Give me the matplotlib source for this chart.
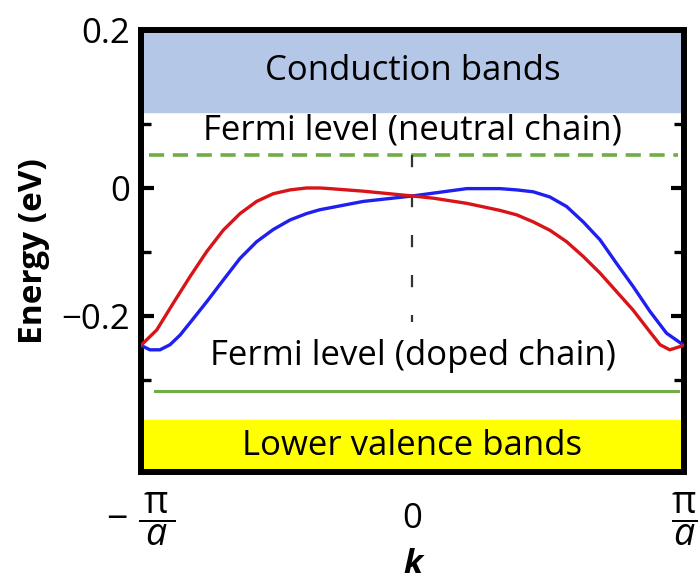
import matplotlib
matplotlib.use("Agg")
import matplotlib.pyplot as plt
from matplotlib.ticker import FixedLocator

plt.rcParams['font.family'] = ['Open Sans', 'DejaVu Sans']
plt.rcParams['mathtext.fontset'] = 'custom'
plt.rcParams['mathtext.rm'] = 'Open Sans'
plt.rcParams['mathtext.it'] = 'Open Sans:italic'
plt.rcParams['mathtext.bf'] = 'Open Sans:bold'

# ---- data ----
k_red = [-1.0, -0.942, -0.881, -0.820, -0.758, -0.697, -0.635, -0.574, -0.513, -0.451,
         -0.390, -0.341, -0.304, -0.181, 0.0, 0.078, 0.2, 0.322, 0.384, 0.445, 0.506,
         0.568, 0.629, 0.691, 0.752, 0.813, 0.875, 0.912, 0.948, 1.0]
e_red = [-0.246, -0.222, -0.180, -0.139, -0.0995, -0.066, -0.040, -0.021, -0.009, -0.003,
         0.0, 0.0, -0.001, -0.005, -0.0125, -0.016, -0.024, -0.035, -0.042, -0.053, -0.066,
         -0.084, -0.107, -0.133, -0.162, -0.191, -0.225, -0.245, -0.253, -0.246]
k_blue = [-1.0, -0.967, -0.930, -0.893, -0.856, -0.820, -0.758, -0.697, -0.635, -0.574,
          -0.513, -0.451, -0.390, -0.341, -0.181, 0.0, 0.078, 0.2, 0.322, 0.384, 0.445,
          0.506, 0.568, 0.629, 0.691, 0.752, 0.813, 0.875, 0.936, 1.0]
e_blue = [-0.246, -0.253, -0.253, -0.245, -0.230, -0.211, -0.178, -0.144, -0.110, -0.084,
          -0.065, -0.050, -0.040, -0.034, -0.021, -0.0125, -0.008, -0.001, -0.001, -0.003, -0.006,
          -0.014, -0.029, -0.053, -0.081, -0.118, -0.154, -0.193, -0.227, -0.246]

fermi_neutral = 0.052
fermi_doped = -0.317
conduction_bottom = 0.119
valence_top = -0.3625
y_top, y_bottom = 0.247, -0.444

major_ticks = [y_top, 0.0, -0.2]
major_labels = ['0.2', '0', '\u22120.2']
minor_ticks = [0.1, -0.1, -0.3]
x_ticks = [-1, 0, 1]
x_labels = [r'$-\ \dfrac{\,\mathrm{\pi}\,}{a}$', '0', r'$\dfrac{\mathrm{\pi}}{a}$']

texts = {
    'conduction': 'Conduction bands',
    'neutral': 'Fermi level (neutral chain)',
    'doped': 'Fermi level (doped chain)',
    'valence': 'Lower valence bands',
}

fig = plt.figure(figsize=(7.0, 5.82), dpi=100)
ax = fig.add_axes([0.2014, 0.189, 0.7756, 0.7595])
ax.set_xlim(-1, 1)
ax.set_ylim(y_bottom, y_top)

ax.axhspan(conduction_bottom, y_top, color='#b4c7e7', zorder=0)
ax.axhspan(y_bottom, valence_top, xmax=0.993, color='#ffff00', zorder=0)

ax.plot([-0.97, 0.98], [fermi_neutral] * 2, color='#70ad47', lw=2.6,
        dashes=(4.2, 2.4), zorder=2)
ax.plot([-0.95, 0.98], [fermi_doped] * 2, color='#70ad47', lw=2.2, zorder=2)
ax.plot([0, 0], [0.052, -0.21], color='#333333', lw=1.6, dashes=(5.5, 12.5), zorder=2)

ax.plot(k_blue, e_blue, color='#1f1ff0', lw=2.4, zorder=3,
        solid_joinstyle='round', solid_capstyle='round')
ax.plot(k_red, e_red, color='#d81418', lw=2.4, zorder=3,
        solid_joinstyle='round', solid_capstyle='round')

fs = 25
ax.text(0, 0.183, texts['conduction'], ha='center', va='center', fontsize=fs)
ax.text(0, 0.090, texts['neutral'], ha='center', va='center', fontsize=fs)
ax.text(0, -0.262, texts['doped'], ha='center', va='center', fontsize=fs)
ax.text(0, -0.404, texts['valence'], ha='center', va='center', fontsize=fs)

for s in ax.spines.values():
    s.set_linewidth(4.3)

ax.yaxis.set_major_locator(FixedLocator(major_ticks))
ax.set_yticklabels(major_labels)
ax.yaxis.set_minor_locator(FixedLocator(minor_ticks))
ax.tick_params(axis='y', which='major', direction='in', length=9.5, width=3,
               left=True, right=True, labelsize=25, pad=8)
ax.tick_params(axis='y', which='minor', direction='in', length=7, width=2.4,
               left=True, right=True)
ax.set_xticks(x_ticks)
ax.set_xticklabels(x_labels)
ax.tick_params(axis='x', length=0, labelsize=25, pad=34)
for i, lab in enumerate(ax.get_xticklabels()):
    lab.set_va('center')
    if i != 1:
        lab.set_fontsize(27)

ax.set_ylabel('Energy (eV)', fontsize=24, fontweight='bold', labelpad=8)
ax.set_xlabel('k', fontsize=24, fontweight='bold', fontstyle='italic', va='bottom')
ax.xaxis.set_label_coords(0.5, -0.2475)

fig.savefig('out.png', dpi=100)
